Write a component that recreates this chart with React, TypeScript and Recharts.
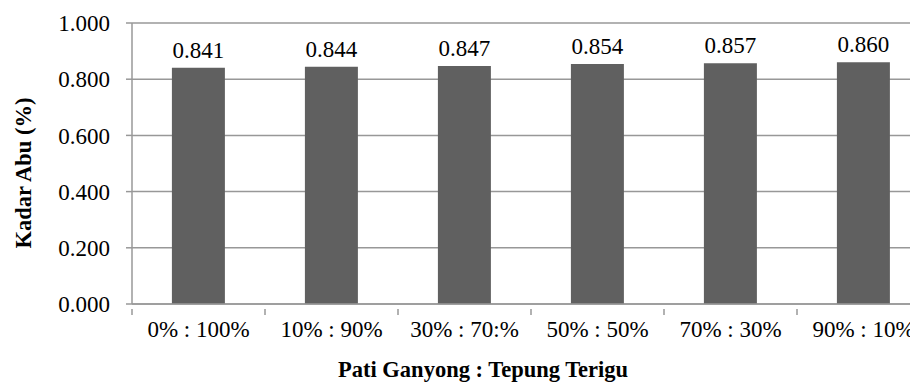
import { Bar, BarChart, CartesianGrid, LabelList, XAxis, YAxis } from 'recharts';

const categories = ['0% : 100%', '10% : 90%', '30% : 70:%', '50% : 50%', '70% : 30%', '90% : 10%'];
const kadarAbu = [0.841, 0.844, 0.847, 0.854, 0.857, 0.86];
const yTicks = [0, 0.2, 0.4, 0.6, 0.8, 1.0];

const data = categories.map((name, i) => ({ name, value: kadarAbu[i] }));

const serif = '"Liberation Serif", "Times New Roman", serif';
const gridGray = '#989898';
const barGray = '#606060';

/** Category tick: label at band centre, tick mark on the band's left edge (Excel style). */
function CategoryTick(props: any) {
  const { x, y, payload } = props;
  const edge = x - (payload?.offset ?? 0);
  return (
    <g>
      <line x1={edge} y1={y - 12} x2={edge} y2={y - 6} stroke={gridGray} strokeWidth={1.5} />
      <text x={x} y={y} dy="0.71em" textAnchor="middle" fontFamily={serif} fontSize={23} fill="#000">
        {payload.value}
      </text>
    </g>
  );
}

export default function App() {
  return (
    <div style={{ width: 910, height: 375, overflow: 'hidden' }}>
      <BarChart
        width={930}
        height={375}
        data={data}
        barCategoryGap="30%"
        margin={{ top: 15, right: 8, bottom: 39, left: 0 }}
      >
        <CartesianGrid stroke={gridGray} strokeWidth={1.5} vertical={false} />
        <XAxis
          dataKey="name"
          tickLine={false}
          axisLine={{ stroke: gridGray, strokeWidth: 1.5 }}
          tickSize={6}
          tickMargin={11}
          height={40}
          interval={0}
          tick={<CategoryTick />}
          label={{
            content: () => (
              <text x={330} y={369} fontFamily={serif} fontSize={22.5} fontWeight="bold" fill="#000">
                Pati Ganyong : Tepung Terigu
              </text>
            ),
          }}
        />
        <YAxis
          domain={[0, 1]}
          ticks={yTicks}
          interval={0}
          width={124}
          tickSize={6}
          tickMargin={16}
          tickLine={{ stroke: gridGray, strokeWidth: 1.5 }}
          axisLine={{ stroke: gridGray, strokeWidth: 1.5 }}
          tickFormatter={(v: number) => v.toFixed(3)}
          tick={{ fontFamily: serif, fontSize: 23, fill: '#000' }}
          label={{
            content: () => (
              <text
                x={15}
                y={165}
                transform="rotate(-90 15 165)"
                textAnchor="middle"
                dominantBaseline="central"
                fontFamily={serif}
                fontSize={22.5}
                fontWeight="bold"
                fill="#000"
              >
                Kadar Abu (%)
              </text>
            ),
          }}
        />
        <Bar dataKey="value" fill={barGray} isAnimationActive={false}>
          <LabelList
            dataKey="value"
            position="top"
            offset={10}
            formatter={(v: any) => Number(v).toFixed(3)}
            style={{ fontFamily: serif, fontSize: 23, fill: '#000' }}
          />
        </Bar>
      </BarChart>
    </div>
  );
}
